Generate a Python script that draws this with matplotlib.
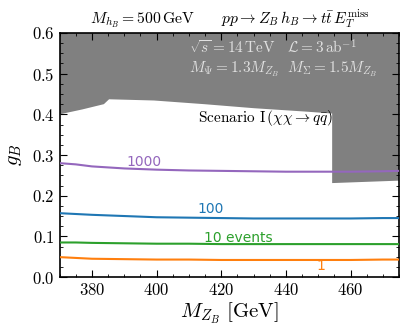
import numpy as np
import matplotlib
matplotlib.use('Agg')
import matplotlib.pyplot as plt
from matplotlib.ticker import MultipleLocator

# Computer-modern look
plt.rcParams.update({'font.family': 'serif', 'font.serif': ['cmr10', 'DejaVu Serif'],
                     'mathtext.fontset': 'cm', 'axes.unicode_minus': False,
                     'axes.formatter.use_mathtext': True, 'font.size': 11})

# event-count contours, g_B vs M_ZB
mzb = [370, 375, 380, 390, 400, 410, 420, 430, 440, 450, 460, 470, 475]
g_1000 = [0.280, 0.277, 0.272, 0.267, 0.264, 0.262, 0.261, 0.260, 0.259, 0.259, 0.259, 0.260, 0.261]
g_100 = [0.157, 0.155, 0.153, 0.150, 0.147, 0.146, 0.145, 0.144, 0.144, 0.144, 0.144, 0.145, 0.145]
g_10 = [0.085, 0.085, 0.084, 0.083, 0.082, 0.082, 0.081, 0.081, 0.081, 0.081, 0.081, 0.081, 0.081]
g_1 = [0.049, 0.047, 0.045, 0.044, 0.043, 0.043, 0.042, 0.042, 0.042, 0.042, 0.042, 0.043, 0.043]

# excluded region boundary
excl_x = [370, 377, 383.7, 385.3, 399.2, 414.7, 430.2, 445.6, 454.3, 454.3, 475, 475, 370]
excl_y = [0.400, 0.412, 0.425, 0.437, 0.434, 0.425, 0.415, 0.407, 0.402, 0.231, 0.237, 0.6, 0.6]

curves = [(g_1000, '#9467bd', '1000', 396, 0.283),
          (g_100, '#1f77b4', '100', 416.7, 0.167),
          (g_10, '#2ca02c', '10 events', 425.3, 0.096),
          (g_1, '#ff7f0e', '1', 450.8, 0.026)]

fig = plt.figure(figsize=(4.11, 3.33), dpi=100)
ax = fig.add_axes([0.145, 0.168, 0.826, 0.733])

ax.fill(excl_x, excl_y, color='#808080', lw=0, zorder=1)

for g, c, lab, lx, ly in curves:
    ax.plot(mzb, g, color=c, lw=1.5, zorder=3)
    ax.text(lx, ly, lab, color=c, fontsize=10, family='DejaVu Sans',
            ha='center', va='center', zorder=4)

ax.text(410, 0.563, r'$\sqrt{s} = 14\,\mathrm{TeV} \quad \mathcal{L} = 3\,\mathrm{ab}^{-1}$',
        color='0.88', fontsize=11, ha='left', va='center')
ax.text(410, 0.511, r'$M_\Psi = 1.3 M_{Z_B}\ \; M_\Sigma = 1.5 M_{Z_B}$',
        color='0.88', fontsize=11, ha='left', va='center')
ax.text(433.7, 0.390, r'Scenario I$\,(\chi\chi \to q\bar{q})$', fontsize=11,
        ha='center', va='center')

ax.set_xlim(370, 475)
ax.set_ylim(0, 0.6)
ax.xaxis.set_major_locator(MultipleLocator(20))
ax.xaxis.set_minor_locator(MultipleLocator(5))
ax.yaxis.set_major_locator(MultipleLocator(0.1))
ax.yaxis.set_minor_locator(MultipleLocator(0.025))
ax.tick_params(which='both', direction='in', top=True, right=True, labelsize=12)
ax.tick_params(which='major', length=5)
ax.tick_params(which='minor', length=2.5)
for s in ax.spines.values():
    s.set_linewidth(1.2)

ax.set_xlabel(r'$M_{Z_B}\ [\mathrm{GeV}]$', fontsize=15, labelpad=2)
ax.set_ylabel(r'$g_B$', fontsize=15, labelpad=6)
ax.set_title(r'$M_{h_B} = 500\,\mathrm{GeV} \qquad pp \to Z_B\, h_B \to t\bar{t}\, E_T^{\mathrm{miss}}$',
             fontsize=11.3, pad=7)

fig.savefig('out.png', dpi=100)
